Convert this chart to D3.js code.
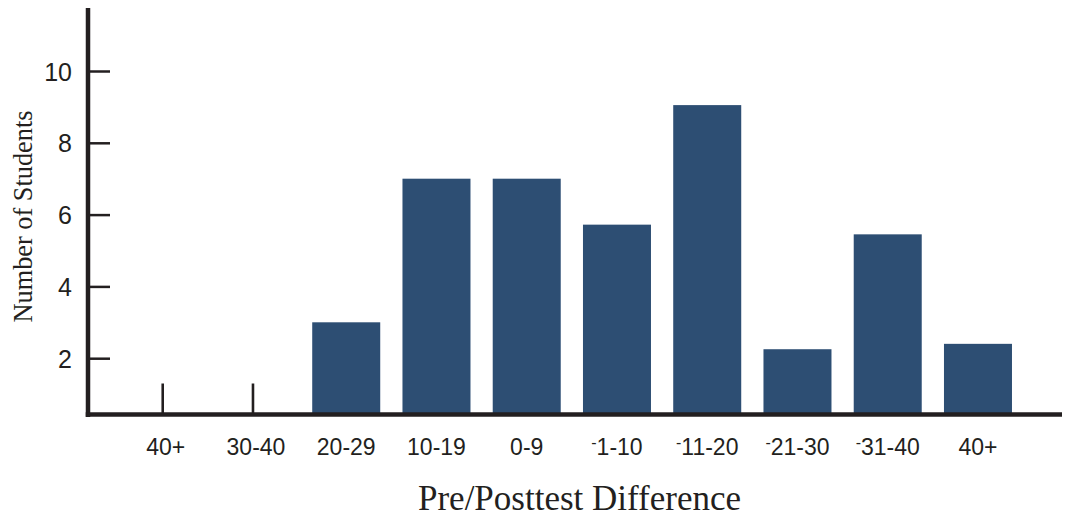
<!DOCTYPE html>
<html>
<head>
<meta charset="utf-8">
<script src="https://cdn.jsdelivr.net/npm/d3@7"></script>
<style>
  html, body { margin: 0; padding: 0; background: #ffffff; }
  svg { display: block; }
</style>
</head>
<body>
<svg id="chart" width="1065" height="518"></svg>
<script>
// ---- data ----
const categories = ["40+", "30-40", "20-29", "10-19", "0-9", "-1-10", "-11-20", "-21-30", "-31-40", "40+ "];
const values = [0, 0, 3, 7, 7, 5.72, 9.05, 2.25, 5.45, 2.4];
const yTicks = [2, 4, 6, 8, 10];
const xTitle = "Pre/Posttest Difference";
const yTitle = "Number of Students";

// ---- layout ----
const W = 1065, H = 518;
const axisX = 88, axisY = 414.5;
const ink = "#231f20", barColor = "#2d4e73";

const svg = d3.select("#chart");

const x = d3.scaleBand()
  .domain(categories)
  .range([120.6, 1023.1])
  .paddingInner(0.2465)
  .paddingOuter(0.12325);

const y = d3.scaleLinear().domain([0, 10]).range([430, 71]);

// bars
svg.append("g").selectAll("rect")
  .data(categories.map((c, i) => ({ c, v: values[i] })).filter(d => d.v > 0))
  .join("rect")
  .attr("x", d => x(d.c))
  .attr("width", x.bandwidth())
  .attr("y", d => y(d.v))
  .attr("height", d => axisY - y(d.v))
  .attr("fill", barColor);

// small ticks for empty categories
svg.append("g").selectAll("line")
  .data(categories.filter((c, i) => values[i] === 0))
  .join("line")
  .attr("x1", d => x(d) + x.bandwidth() / 2 - 3)
  .attr("x2", d => x(d) + x.bandwidth() / 2 - 3)
  .attr("y1", axisY)
  .attr("y2", axisY - 31)
  .attr("stroke", ink)
  .attr("stroke-width", 2.6);

// y axis
const yAxis = svg.append("g")
  .attr("transform", `translate(${axisX},0)`)
  .call(d3.axisLeft(y).tickValues(yTicks).tickSizeInner(-22).tickSizeOuter(0).tickPadding(16));
yAxis.select(".domain").remove();
yAxis.selectAll(".tick line").attr("stroke", ink).attr("stroke-width", 2.5);
yAxis.selectAll(".tick text")
  .attr("fill", ink)
  .attr("font-family", "'Liberation Sans', Arial, sans-serif")
  .attr("font-size", 25)
  .attr("dy", "0.36em");

// x axis labels
const xAxis = svg.append("g")
  .attr("transform", `translate(0,${axisY})`)
  .call(d3.axisBottom(x).tickSize(0).tickPadding(0));
xAxis.select(".domain").remove();
xAxis.selectAll(".tick text")
  .attr("fill", ink)
  .attr("font-family", "'Liberation Sans', Arial, sans-serif")
  .attr("font-size", 23)
  .attr("y", 40.5)
  .attr("dy", 0)
  .each(function(d) {
    const t = d3.select(this);
    const label = d.trim();
    t.text(null);
    if (label.startsWith("-")) {
      t.append("tspan").attr("font-size", 16).attr("dy", -7).text("-");
      t.append("tspan").attr("dy", 7).text(label.slice(1));
    } else {
      t.text(label);
    }
  });

// axis lines
svg.append("line")
  .attr("x1", axisX).attr("x2", axisX)
  .attr("y1", 8).attr("y2", axisY + 2.5)
  .attr("stroke", ink).attr("stroke-width", 4.5);
svg.append("line")
  .attr("x1", axisX - 2.25).attr("x2", 1062)
  .attr("y1", axisY).attr("y2", axisY)
  .attr("stroke", ink).attr("stroke-width", 4.5);

// titles
svg.append("text")
  .attr("x", 579.5).attr("y", 510)
  .attr("text-anchor", "middle")
  .attr("font-family", "'Liberation Serif', 'Times New Roman', serif")
  .attr("font-size", 35)
  .attr("fill", ink)
  .text(xTitle);

svg.append("text")
  .attr("transform", "translate(32,216.5) rotate(-90)")
  .attr("text-anchor", "middle")
  .attr("font-family", "'Liberation Serif', 'Times New Roman', serif")
  .attr("font-size", 27)
  .attr("textLength", 212)
  .attr("lengthAdjust", "spacingAndGlyphs")
  .attr("fill", ink)
  .text(yTitle);
</script>
</body>
</html>
